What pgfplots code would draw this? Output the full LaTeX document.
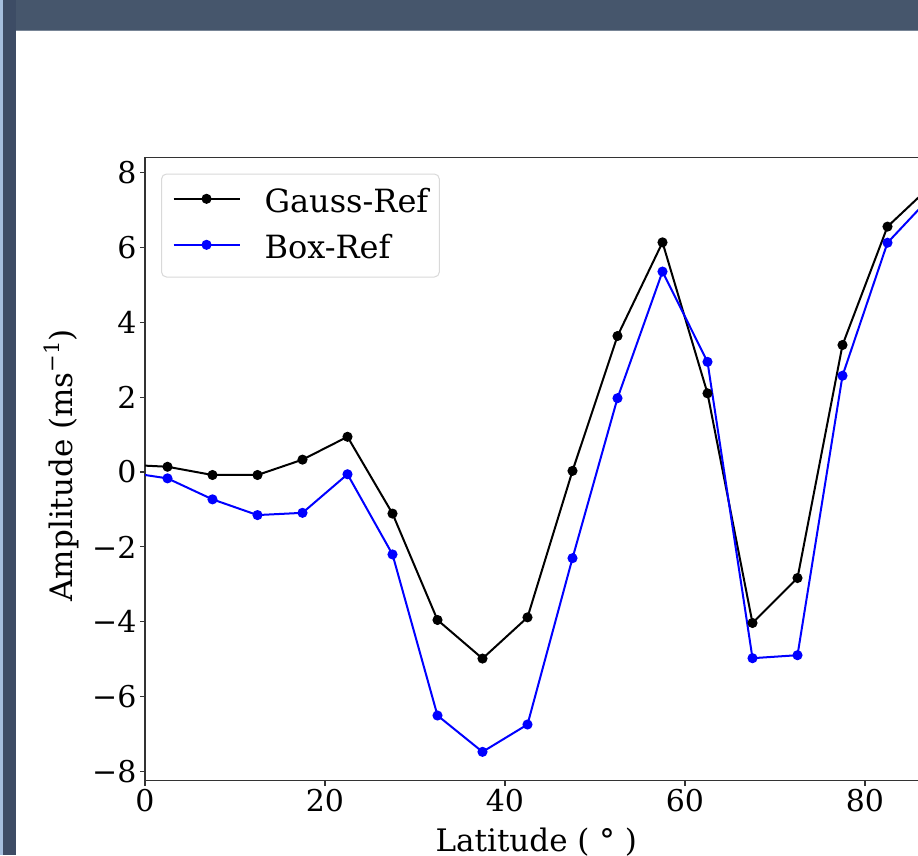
\documentclass[border=0pt]{standalone}
\usepackage{fontspec}
\setmainfont{DejaVu Serif}
\usepackage{pgfplots}
\pgfplotsset{compat=1.18}
\definecolor{barcol}{RGB}{70,86,108}
\definecolor{stripdark}{RGB}{61,76,101}
\definecolor{striplight}{RGB}{165,190,221}
\definecolor{barline}{RGB}{120,133,150}
\begin{document}
\begin{tikzpicture}[x=1pt,y=1pt]
\useasboundingbox (0,0) rectangle (918,855);
\fill[white] (0,0) rectangle (918,855);
\begin{scope}
\clip (0,0) rectangle (918,855);
\begin{axis}[
  scale only axis, width=810pt, height=623.4pt,
  at={(145pt,74.3pt)}, anchor=south west,
  xmin=0, xmax=90, ymin=-8.24, ymax=8.40,
  xtick={0,20,40,60,80},
  ytick={-8,-6,-4,-2,0,2,4,6,8},
  yticklabels={−8,−6,−4,−2,0,2,4,6,8},
  tick align=outside, xtick pos=left, ytick pos=left,
  major tick length=5pt,
  axis line style={draw=black!80, line width=1.1pt},
  every tick/.style={black!80, line width=1.1pt},
  /pgf/number format/assume math mode=true,
  tick label style={font=\fontsize{30}{30}\selectfont},
  xlabel={Latitude ( ° )},
  ylabel={Amplitude (ms\raisebox{0.42em}{\fontsize{21}{21}\selectfont −1})},
  xlabel style={font=\fontsize{31}{31}\selectfont, at={(axis description cs:0.483,0)}, anchor=base, yshift=-71pt},
  ylabel style={font=\fontsize{31}{31}\selectfont, at={(axis description cs:-0.0889,0.506)}, anchor=base},
  legend image code/.code={\draw[mark repeat=2,mark phase=2] plot coordinates {(0pt,3.7pt) (33pt,3.7pt) (66pt,3.7pt)};},
  legend cell align=left,
  legend style={at={(axis description cs:0.0198,0.974)}, anchor=north west,
    draw=black!15, line width=1pt, rounded corners=5pt, fill=white,
    font=\fontsize{32}{32}\selectfont, inner xsep=11pt, inner ysep=14pt, row sep=17pt,
    nodes={inner sep=0pt, text height=24pt, text depth=5pt},
    /tikz/every odd column/.append style={column sep=24pt}},
]
\addplot[black, line width=2pt, mark=*, mark size=4pt, mark options={fill=black}] coordinates {
(-2.5,0.20) (2.5,0.14) (7.5,-0.08) (12.5,-0.08) (17.5,0.33) (22.5,0.94) (27.5,-1.11)
(32.5,-3.95) (37.5,-4.98) (42.5,-3.88) (47.5,0.03) (52.5,3.63) (57.5,6.13)
(62.5,2.10) (67.5,-4.03) (72.5,-2.83) (77.5,3.39) (82.5,6.55) (87.5,7.68)
};
\addlegendentry{Gauss-Ref}
\addplot[blue, line width=2pt, mark=*, mark size=4pt, mark options={fill=blue}] coordinates {
(-2.5,0.01) (2.5,-0.17) (7.5,-0.73) (12.5,-1.15) (17.5,-1.09) (22.5,-0.06) (27.5,-2.20)
(32.5,-6.50) (37.5,-7.47) (42.5,-6.74) (47.5,-2.30) (52.5,1.97) (57.5,5.35)
(62.5,2.94) (67.5,-4.97) (72.5,-4.89) (77.5,2.57) (82.5,6.12) (87.5,7.40)
};
\addlegendentry{Box-Ref}
\end{axis}
\end{scope}
\fill[barcol] (0,825) rectangle (918,855);
\draw[barline, line width=1pt] (16,824.5) -- (918,824.5);
\fill[stripdark] (0,0) rectangle (16,855);
\fill[striplight] (0,0) rectangle (3,855);
\end{tikzpicture}
\end{document}
